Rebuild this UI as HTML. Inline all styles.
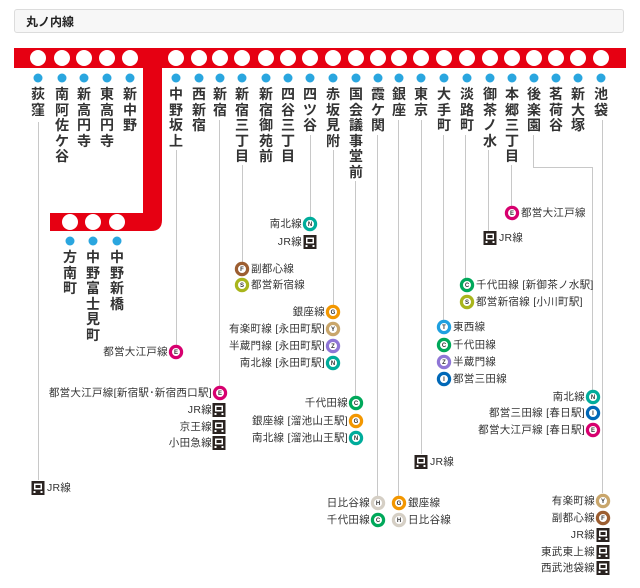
<!DOCTYPE html>
<html><head><meta charset="utf-8">
<style>
html,body{margin:0;padding:0;background:#fff;}
body{width:640px;height:588px;position:relative;overflow:hidden;font-family:"Liberation Sans","Noto Sans CJK JP",sans-serif;}
.hdr{position:absolute;left:14px;top:9px;width:610px;height:24px;border:1px solid #dcdcdc;border-radius:3px;background:#f7f7f7;font-size:12px;font-weight:bold;color:#222;line-height:24px;padding-left:11px;box-sizing:border-box;}
svg{position:absolute;left:0;top:0;}
.n{position:absolute;width:16px;font-size:14px;line-height:15.5px;font-weight:bold;color:#333;text-align:center;word-break:break-all;}
.l{position:absolute;font-size:10.5px;line-height:14px;color:#333;white-space:nowrap;letter-spacing:0.3px;}
</style></head><body>
<div class="hdr">丸ノ内線</div>
<svg width="640" height="588" viewBox="0 0 640 588">
<g stroke="#c8c8c8" stroke-width="1" fill="none">
<line x1="38.5" y1="122" x2="38.5" y2="480"/>
<line x1="176.5" y1="150" x2="176.5" y2="345"/>
<line x1="219.5" y1="120" x2="219.5" y2="386"/>
<line x1="242.5" y1="165" x2="242.5" y2="262"/>
<line x1="310.5" y1="135" x2="310.5" y2="217"/>
<line x1="333.5" y1="150" x2="333.5" y2="305"/>
<line x1="355.5" y1="181" x2="355.5" y2="396"/>
<line x1="377.5" y1="135" x2="377.5" y2="496"/>
<line x1="398.5" y1="120" x2="398.5" y2="496"/>
<line x1="421.5" y1="120" x2="421.5" y2="454"/>
<line x1="443.5" y1="135" x2="443.5" y2="320"/>
<line x1="465.5" y1="135" x2="465.5" y2="278"/>
<line x1="488.5" y1="150" x2="488.5" y2="231"/>
<line x1="511.5" y1="165" x2="511.5" y2="206"/>
<polyline points="533.5,135 533.5,167.5 592.5,167.5 592.5,390"/>
<line x1="602.5" y1="120" x2="602.5" y2="493"/>
</g>
<rect x="14" y="48" width="612" height="20" fill="#e60012"/>
<path d="M143 60 H162 V220 Q162 231 151 231 H50 V213 H143 Z" fill="#e60012"/>
<g fill="#fff">
<circle cx="38" cy="58" r="8"/><circle cx="62" cy="58" r="8"/><circle cx="84" cy="58" r="8"/><circle cx="107" cy="58" r="8"/><circle cx="130" cy="58" r="8"/>
<circle cx="176" cy="58" r="8"/><circle cx="199" cy="58" r="8"/><circle cx="220" cy="58" r="8"/><circle cx="242" cy="58" r="8"/><circle cx="266" cy="58" r="8"/><circle cx="288" cy="58" r="8"/><circle cx="310" cy="58" r="8"/>
<circle cx="333" cy="58" r="8"/><circle cx="356" cy="58" r="8"/><circle cx="378" cy="58" r="8"/><circle cx="399" cy="58" r="8"/><circle cx="421" cy="58" r="8"/><circle cx="444" cy="58" r="8"/><circle cx="467" cy="58" r="8"/><circle cx="490" cy="58" r="8"/><circle cx="512" cy="58" r="8"/><circle cx="534" cy="58" r="8"/><circle cx="556" cy="58" r="8"/><circle cx="578" cy="58" r="8"/><circle cx="601" cy="58" r="8"/>
<circle cx="70" cy="222" r="8"/><circle cx="93" cy="222" r="8"/><circle cx="117" cy="222" r="8"/>
</g>
<g fill="#2aa6df">
<circle cx="38" cy="78" r="4.5"/><circle cx="62" cy="78" r="4.5"/><circle cx="84" cy="78" r="4.5"/><circle cx="107" cy="78" r="4.5"/><circle cx="130" cy="78" r="4.5"/>
<circle cx="176" cy="78" r="4.5"/><circle cx="199" cy="78" r="4.5"/><circle cx="220" cy="78" r="4.5"/><circle cx="242" cy="78" r="4.5"/><circle cx="266" cy="78" r="4.5"/><circle cx="288" cy="78" r="4.5"/><circle cx="310" cy="78" r="4.5"/>
<circle cx="333" cy="78" r="4.5"/><circle cx="356" cy="78" r="4.5"/><circle cx="378" cy="78" r="4.5"/><circle cx="399" cy="78" r="4.5"/><circle cx="421" cy="78" r="4.5"/><circle cx="444" cy="78" r="4.5"/><circle cx="467" cy="78" r="4.5"/><circle cx="490" cy="78" r="4.5"/><circle cx="512" cy="78" r="4.5"/><circle cx="534" cy="78" r="4.5"/><circle cx="556" cy="78" r="4.5"/><circle cx="578" cy="78" r="4.5"/><circle cx="601" cy="78" r="4.5"/>
<circle cx="70" cy="241" r="4.5"/><circle cx="93" cy="241" r="4.5"/><circle cx="117" cy="241" r="4.5"/>
</g>
<g font-family="Liberation Sans, sans-serif" font-size="6" font-weight="bold" fill="#333" text-anchor="middle">
<g stroke-width="3.2" fill="#fff">
<circle cx="176" cy="352" r="5.6" stroke="#d7006f"/>
<circle cx="220" cy="393" r="5.6" stroke="#d7006f"/>
<circle cx="242" cy="269" r="5.6" stroke="#9c5e31"/>
<circle cx="242" cy="285" r="5.6" stroke="#a9b51c"/>
<circle cx="310" cy="224" r="5.6" stroke="#00ac9b"/>
<circle cx="333" cy="312" r="5.6" stroke="#f39700"/>
<circle cx="333" cy="329" r="5.6" stroke="#c9a66b"/>
<circle cx="333" cy="346" r="5.6" stroke="#8f76d6"/>
<circle cx="333" cy="363" r="5.6" stroke="#00ac9b"/>
<circle cx="356" cy="403" r="5.6" stroke="#00a85a"/>
<circle cx="356" cy="421" r="5.6" stroke="#f39700"/>
<circle cx="356" cy="438" r="5.6" stroke="#00ac9b"/>
<circle cx="378" cy="503" r="5.6" stroke="#d5cfc5"/>
<circle cx="378" cy="520" r="5.6" stroke="#00a85a"/>
<circle cx="399" cy="503" r="5.6" stroke="#f39700"/>
<circle cx="399" cy="520" r="5.6" stroke="#d5cfc5"/>
<circle cx="444" cy="327" r="5.6" stroke="#1fa0e0"/>
<circle cx="444" cy="345" r="5.6" stroke="#00a85a"/>
<circle cx="444" cy="362" r="5.6" stroke="#8f76d6"/>
<circle cx="444" cy="379" r="5.6" stroke="#0068b7"/>
<circle cx="467" cy="285" r="5.6" stroke="#00a85a"/>
<circle cx="467" cy="302" r="5.6" stroke="#a9b51c"/>
<circle cx="512" cy="213" r="5.6" stroke="#d7006f"/>
<circle cx="593" cy="397" r="5.6" stroke="#00ac9b"/>
<circle cx="593" cy="413" r="5.6" stroke="#0068b7"/>
<circle cx="593" cy="430" r="5.6" stroke="#d7006f"/>
<circle cx="603" cy="501" r="5.6" stroke="#c9a66b"/>
<circle cx="603" cy="518" r="5.6" stroke="#9c5e31"/>
</g>
<text x="176" y="354">E</text><text x="220" y="395">E</text><text x="242" y="271">F</text><text x="242" y="287">S</text>
<text x="310" y="226">N</text><text x="333" y="314">G</text><text x="333" y="331">Y</text><text x="333" y="348">Z</text><text x="333" y="365">N</text>
<text x="356" y="405">C</text><text x="356" y="423">G</text><text x="356" y="440">N</text>
<text x="378" y="505">H</text><text x="378" y="522">C</text><text x="399" y="505">G</text><text x="399" y="522">H</text>
<text x="444" y="329">T</text><text x="444" y="347">C</text><text x="444" y="364">Z</text><text x="444" y="381">I</text>
<text x="467" y="287">C</text><text x="467" y="304">S</text><text x="512" y="215">E</text>
<text x="593" y="399">N</text><text x="593" y="415">I</text><text x="593" y="432">E</text>
<text x="603" y="503">Y</text><text x="603" y="520">F</text>
</g>
<defs><g id="jr"><rect x="-6.5" y="-7" width="13" height="14" fill="#2a2320"/><rect x="-4" y="-4.5" width="8" height="6" fill="#fff"/><rect x="-2.5" y="-3" width="5" height="3" fill="#2a2320"/><rect x="-4.5" y="3" width="2" height="2" fill="#fff"/><rect x="2.5" y="3" width="2" height="2" fill="#fff"/></g></defs>
<use href="#jr" x="38" y="488"/>
<use href="#jr" x="219" y="410"/><use href="#jr" x="219" y="427"/><use href="#jr" x="219" y="443"/>
<use href="#jr" x="310" y="242"/>
<use href="#jr" x="421" y="462"/>
<use href="#jr" x="490" y="238"/>
<use href="#jr" x="603" y="535"/><use href="#jr" x="603" y="552"/><use href="#jr" x="603" y="568"/>
</svg>

<div class="n" style="left:30px;top:87px">荻窪</div>
<div class="n" style="left:54px;top:87px">南阿佐ケ谷</div>
<div class="n" style="left:76px;top:87px">新高円寺</div>
<div class="n" style="left:99px;top:87px">東高円寺</div>
<div class="n" style="left:122px;top:87px">新中野</div>
<div class="n" style="left:168px;top:87px">中野坂上</div>
<div class="n" style="left:191px;top:87px">西新宿</div>
<div class="n" style="left:212px;top:87px">新宿</div>
<div class="n" style="left:234px;top:87px">新宿三丁目</div>
<div class="n" style="left:258px;top:87px">新宿御苑前</div>
<div class="n" style="left:280px;top:87px">四谷三丁目</div>
<div class="n" style="left:302px;top:87px">四ツ谷</div>
<div class="n" style="left:325px;top:87px">赤坂見附</div>
<div class="n" style="left:348px;top:87px">国会議事堂前</div>
<div class="n" style="left:370px;top:87px">霞ケ関</div>
<div class="n" style="left:391px;top:87px">銀座</div>
<div class="n" style="left:413px;top:87px">東京</div>
<div class="n" style="left:436px;top:87px">大手町</div>
<div class="n" style="left:459px;top:87px">淡路町</div>
<div class="n" style="left:482px;top:87px">御茶ノ水</div>
<div class="n" style="left:504px;top:87px">本郷三丁目</div>
<div class="n" style="left:526px;top:87px">後楽園</div>
<div class="n" style="left:548px;top:87px">茗荷谷</div>
<div class="n" style="left:570px;top:87px">新大塚</div>
<div class="n" style="left:593px;top:87px">池袋</div>
<div class="n" style="left:62px;top:250px">方南町</div>
<div class="n" style="left:85px;top:250px">中野富士見町</div>
<div class="n" style="left:109px;top:250px">中野新橋</div>

<div class="l" style="right:472px;top:345px">都営大江戸線</div>
<div class="l" style="right:428px;top:386px">都営大江戸線[新宿駅･新宿西口駅]</div>
<div class="l" style="right:428px;top:403px">JR線</div>
<div class="l" style="right:428px;top:420px">京王線</div>
<div class="l" style="right:428px;top:436px">小田急線</div>
<div class="l" style="right:338px;top:217px">南北線</div>
<div class="l" style="right:338px;top:235px">JR線</div>
<div class="l" style="right:315px;top:305px">銀座線</div>
<div class="l" style="right:315px;top:322px">有楽町線 [永田町駅]</div>
<div class="l" style="right:315px;top:339px">半蔵門線 [永田町駅]</div>
<div class="l" style="right:315px;top:356px">南北線 [永田町駅]</div>
<div class="l" style="right:292px;top:396px">千代田線</div>
<div class="l" style="right:292px;top:414px">銀座線 [溜池山王駅]</div>
<div class="l" style="right:292px;top:431px">南北線 [溜池山王駅]</div>
<div class="l" style="right:270px;top:496px">日比谷線</div>
<div class="l" style="right:270px;top:513px">千代田線</div>
<div class="l" style="right:55px;top:390px">南北線</div>
<div class="l" style="right:55px;top:406px">都営三田線 [春日駅]</div>
<div class="l" style="right:55px;top:423px">都営大江戸線 [春日駅]</div>
<div class="l" style="right:45px;top:494px">有楽町線</div>
<div class="l" style="right:45px;top:511px">副都心線</div>
<div class="l" style="right:45px;top:528px">JR線</div>
<div class="l" style="right:45px;top:545px">東武東上線</div>
<div class="l" style="right:45px;top:561px">西武池袋線</div>
<div class="l" style="left:47px;top:481px">JR線</div>
<div class="l" style="left:251px;top:262px">副都心線</div>
<div class="l" style="left:251px;top:278px">都営新宿線</div>
<div class="l" style="left:408px;top:496px">銀座線</div>
<div class="l" style="left:408px;top:513px">日比谷線</div>
<div class="l" style="left:430px;top:455px">JR線</div>
<div class="l" style="left:453px;top:320px">東西線</div>
<div class="l" style="left:453px;top:338px">千代田線</div>
<div class="l" style="left:453px;top:355px">半蔵門線</div>
<div class="l" style="left:453px;top:372px">都営三田線</div>
<div class="l" style="left:476px;top:278px">千代田線 [新御茶ノ水駅]</div>
<div class="l" style="left:476px;top:295px">都営新宿線 [小川町駅]</div>
<div class="l" style="left:499px;top:231px">JR線</div>
<div class="l" style="left:521px;top:206px">都営大江戸線</div>
</body></html>
